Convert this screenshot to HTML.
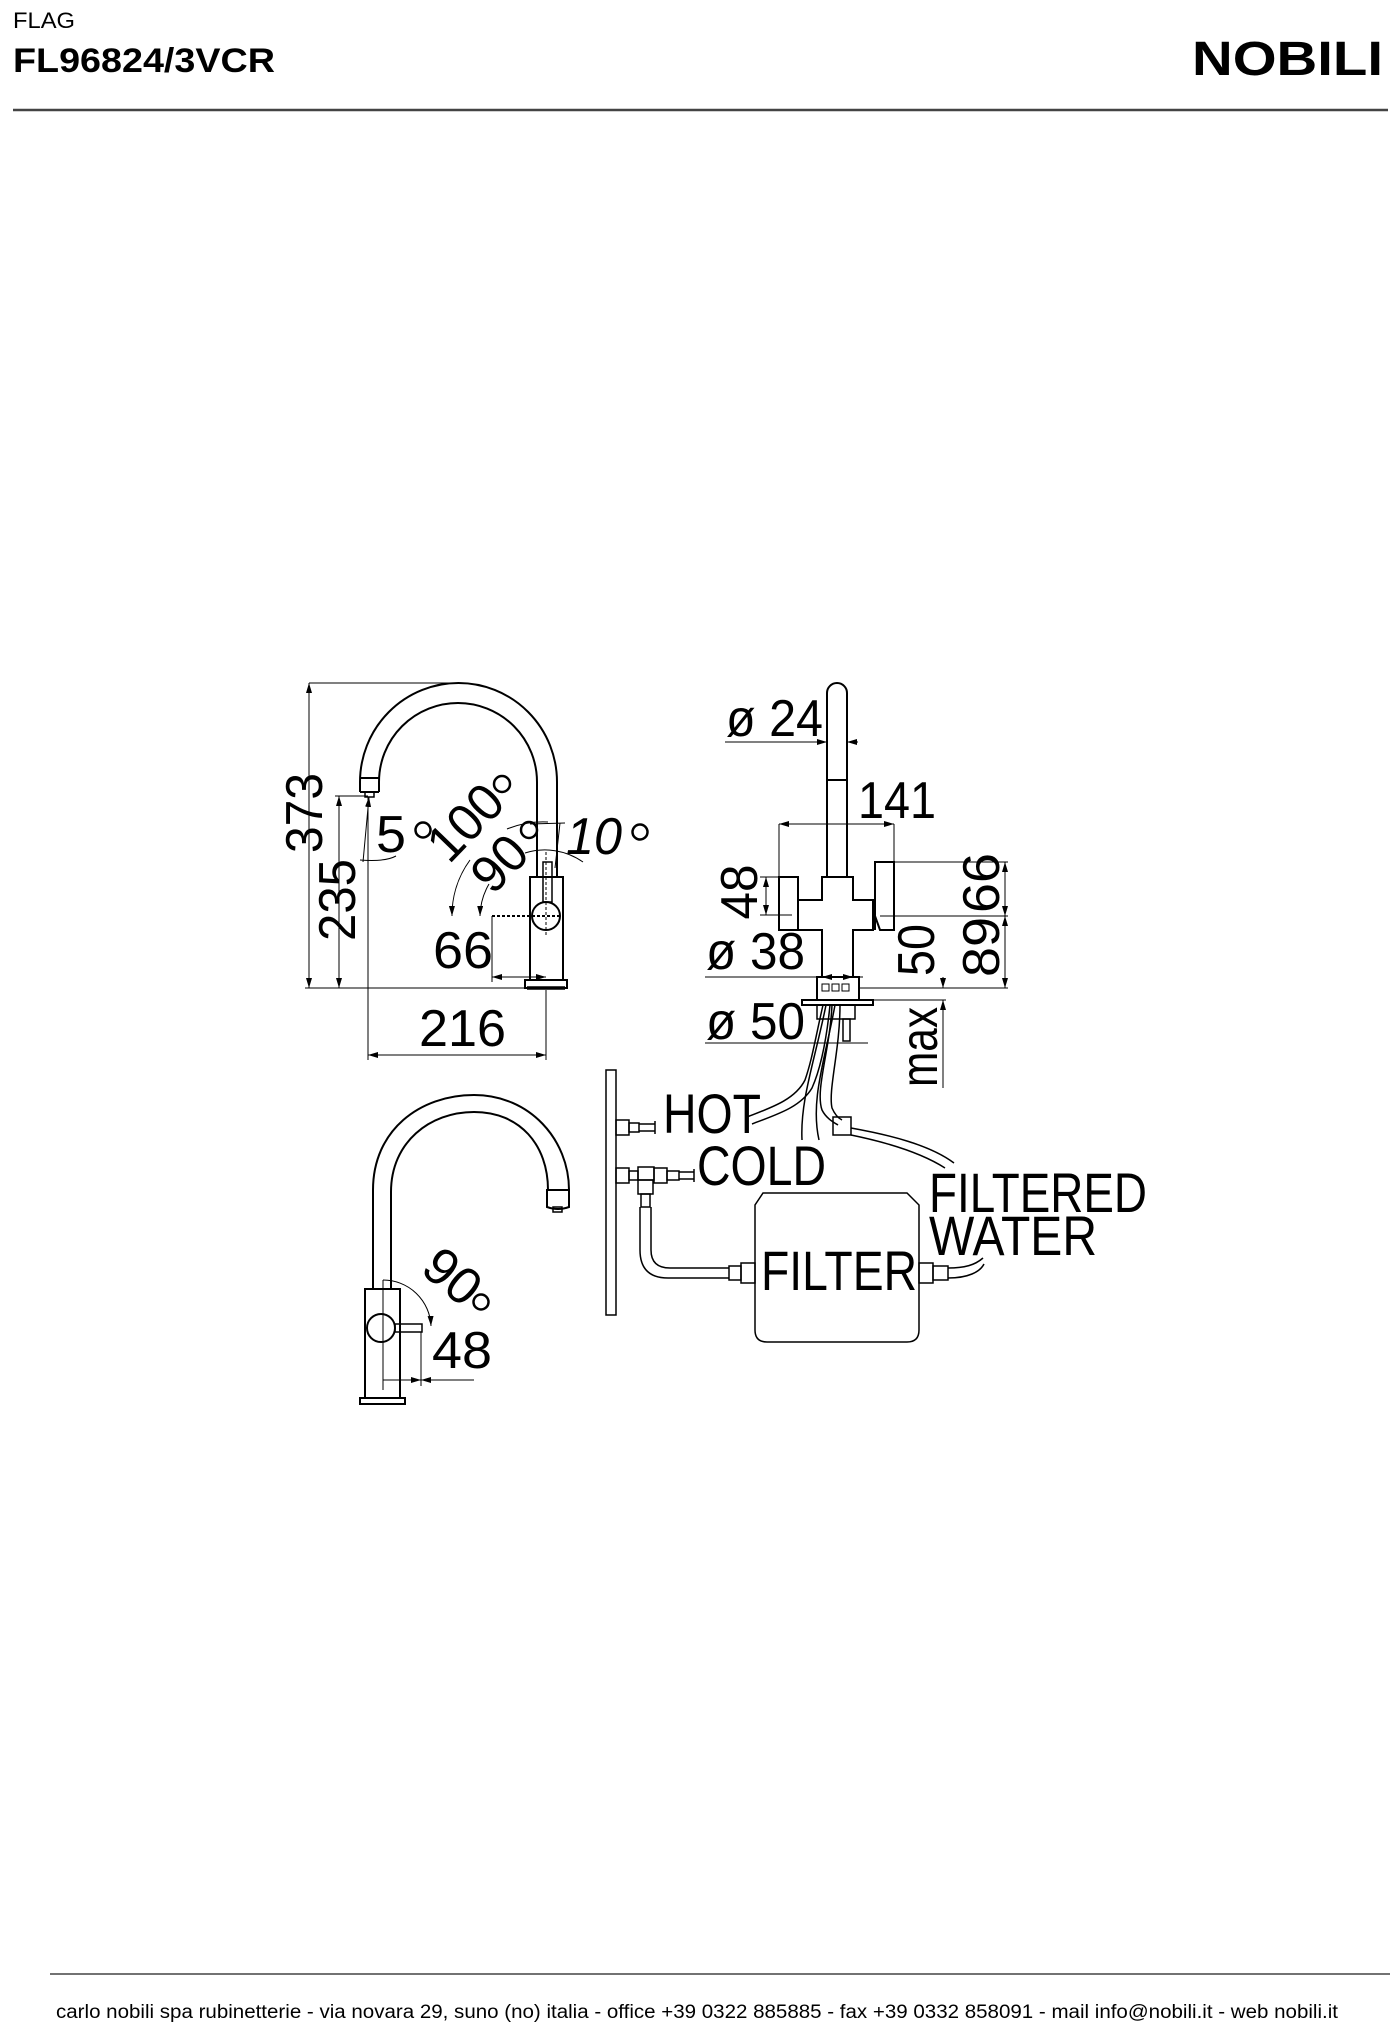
<!DOCTYPE html>
<html><head><meta charset="utf-8"><style>
html,body{margin:0;padding:0;background:#fff;}
svg{display:block;}
text{font-family:"Liberation Sans",Arial,sans-serif;fill:#000;}
</style></head><body>
<svg width="1400" height="2031" viewBox="0 0 1400 2031" xmlns="http://www.w3.org/2000/svg" font-family="Liberation Sans, Arial, sans-serif">
<defs>
<marker id="a" viewBox="0 0 10 6" refX="10" refY="3" markerWidth="10" markerHeight="6" orient="auto-start-reverse" markerUnits="userSpaceOnUse"><path d="M0,0 L10,3 L0,6 z" fill="#000"/></marker>
</defs>
<!-- header -->
<text x="13" y="28" font-size="22" font-weight="300" fill="#444" textLength="62" lengthAdjust="spacingAndGlyphs">FLAG</text>
<text x="13" y="72" font-size="34" font-weight="bold" textLength="262" lengthAdjust="spacingAndGlyphs">FL96824/3VCR</text>
<text x="1192" y="75" font-size="48" font-weight="bold" textLength="191" lengthAdjust="spacingAndGlyphs">NOBILI</text>
<line x1="13" y1="110" x2="1388" y2="110" stroke="#444" stroke-width="2.5"/>
<!-- footer -->
<line x1="50" y1="1974" x2="1390" y2="1974" stroke="#444" stroke-width="1.5"/>
<text x="56" y="2018" font-size="19" fill="#222" textLength="1282" lengthAdjust="spacingAndGlyphs">carlo nobili spa rubinetterie - via novara 29, suno (no) italia - office +39 0322 885885 - fax +39 0332 858091 - mail info@nobili.it - web nobili.it</text>

<g fill="none" stroke="#000">
<!-- ===== LEFT SIDE VIEW ===== -->
<g stroke-width="1">
<line x1="309" y1="683" x2="460" y2="683"/>
<line x1="309" y1="683" x2="309" y2="988" marker-start="url(#a)" marker-end="url(#a)"/>
<line x1="305" y1="988" x2="567" y2="988"/>
<line x1="335" y1="796" x2="368" y2="796"/>
<line x1="339" y1="796" x2="339" y2="988" marker-start="url(#a)" marker-end="url(#a)"/>
<line x1="368" y1="797" x2="368" y2="1060"/>
<line x1="546" y1="990" x2="546" y2="1060"/>
<line x1="368" y1="1055" x2="546" y2="1055" marker-start="url(#a)" marker-end="url(#a)"/>
<line x1="492" y1="916" x2="492" y2="982"/>
<line x1="492" y1="977" x2="546" y2="977" marker-start="url(#a)" marker-end="url(#a)"/>
<line x1="369" y1="797" x2="363" y2="862" marker-start="url(#a)"/>
<path d="M360,860 Q385,862 396,856"/>
<path d="M452,916 A94,94 0 0 1 470,860" marker-start="url(#a)"/>
<path d="M507,829 A94,94 0 0 1 548,822"/>
<path d="M480,916 A66,66 0 0 1 489,884" marker-start="url(#a)"/>
<path d="M525,853 A66,66 0 0 1 583,862"/>
<line x1="530" y1="824" x2="565" y2="823"/>
<line x1="560" y1="823" x2="555" y2="868"/>
<line x1="546" y1="852" x2="546" y2="935" stroke-dasharray="3,2"/>
<line x1="492" y1="916" x2="562" y2="916" stroke-dasharray="3,2" stroke-width="2"/>
</g>
<g stroke-width="2">
<path d="M360,792 L360,782 A98.5,99 0 0 1 557,782 L557,877"/>
<path d="M379,792 L379,782 A79,79 0 0 1 537,782 L537,877"/>
<line x1="360" y1="778" x2="379" y2="778"/>
<line x1="360" y1="792" x2="379" y2="792"/>
<rect x="365" y="792" width="9" height="5" stroke-width="1.5"/>
<rect x="530" y="877" width="33" height="103"/>
<rect x="525" y="980" width="42" height="8"/>
<line x1="527" y1="988" x2="565" y2="988" stroke-width="3.5"/>
<circle cx="546" cy="916" r="14"/>
<rect x="543" y="862" width="9" height="40" stroke-width="1.5"/>
</g>

<!-- ===== RIGHT FRONT VIEW ===== -->
<g stroke-width="1">
<line x1="725" y1="742" x2="827" y2="742" marker-end="url(#a)"/>
<line x1="847" y1="742" x2="858" y2="742" marker-start="url(#a)"/>
<line x1="779" y1="824" x2="894" y2="824" marker-start="url(#a)" marker-end="url(#a)"/>
<line x1="779" y1="824" x2="779" y2="917"/>
<line x1="894" y1="824" x2="894" y2="862"/>
<line x1="760" y1="877" x2="779" y2="877"/>
<line x1="760" y1="915" x2="792" y2="915"/>
<line x1="766" y1="877" x2="766" y2="915" marker-start="url(#a)" marker-end="url(#a)"/>
<line x1="894" y1="862" x2="1008" y2="862"/>
<line x1="880" y1="916" x2="1008" y2="916"/>
<line x1="858" y1="988" x2="1008" y2="988"/>
<line x1="1005" y1="862" x2="1005" y2="916" marker-start="url(#a)" marker-end="url(#a)"/>
<line x1="1005" y1="916" x2="1005" y2="988" marker-start="url(#a)" marker-end="url(#a)"/>
<line x1="705" y1="977" x2="863" y2="977"/>
<line x1="822" y1="977" x2="853" y2="977" marker-start="url(#a)" marker-end="url(#a)"/>
<line x1="705" y1="1043" x2="868" y2="1043"/>
<line x1="943" y1="977" x2="943" y2="988" marker-end="url(#a)"/>
<line x1="943" y1="1088" x2="943" y2="1000" marker-end="url(#a)"/>
<line x1="860" y1="1000" x2="946" y2="1000"/>
</g>
<g stroke-width="2">
<path d="M827,877 L827,693 A10,10 0 0 1 847,693 L847,877"/>
<line x1="827" y1="780" x2="847" y2="780"/>
<path d="M822,877 L853,877 L853,900 L873,900 L873,930 L853,930 L853,977 L822,977 L822,930 L798,930 L798,900 L822,900 Z"/>
<rect x="779" y="877" width="19" height="53"/>
<path d="M875,930 L875,862 L894,862 L894,930 L880,930 L875,916"/>
<rect x="817" y="977" width="42" height="23"/>
<rect x="802" y="1000" width="71" height="5"/>
<rect x="817" y="1005" width="38" height="14" stroke-width="1.5"/>
<rect x="843" y="1019" width="7" height="22" stroke-width="1.5"/>
</g>
<g stroke-width="1">
<rect x="822" y="984" width="7" height="7"/><rect x="832" y="984" width="7" height="7"/><rect x="842" y="984" width="7" height="7"/>
</g>
<!-- hoses -->
<g stroke-width="1.5">
<path d="M823,1005 C815,1040 812,1060 805,1080 C795,1100 770,1108 747,1117"/>
<path d="M830,1005 C826,1045 820,1070 812,1088 C800,1108 775,1115 752,1124"/>
<path d="M826,1005 C815,1060 800,1100 802,1140"/>
<path d="M835,1005 C825,1060 810,1100 819,1140"/>
<path d="M832,1005 C830,1050 815,1090 822,1110 C826,1118 833,1122 838,1125"/>
<path d="M840,1005 C840,1050 828,1090 832,1108 C835,1115 838,1118 842,1120"/>
<rect x="833" y="1117" width="18" height="18"/>
<path d="M851,1128 C890,1135 930,1145 954,1163"/>
<path d="M851,1135 C885,1142 920,1152 945,1168"/>
</g>
<!-- wall & connectors -->
<g stroke-width="1.5">
<rect x="606" y="1070" width="10" height="245"/>
<rect x="616" y="1120" width="13" height="15"/>
<rect x="629" y="1123" width="10" height="9"/>
<line x1="639" y1="1124" x2="655" y2="1124"/><line x1="639" y1="1131" x2="655" y2="1131"/><line x1="655" y1="1121" x2="655" y2="1134"/>
<rect x="616" y="1168" width="13" height="15"/>
<rect x="629" y="1171" width="9" height="9"/>
<rect x="638" y="1167" width="16" height="13"/>
<rect x="654" y="1168" width="13" height="15"/>
<rect x="667" y="1171" width="12" height="9"/>
<line x1="679" y1="1172" x2="694" y2="1172"/><line x1="679" y1="1179" x2="694" y2="1179"/><line x1="694" y1="1169" x2="694" y2="1182"/>
<rect x="638" y="1180" width="15" height="14"/>
<rect x="641" y="1194" width="9" height="13"/>
<path d="M640,1207 L640,1250 Q640,1278 668,1278 L729,1278"/>
<path d="M651,1207 L651,1250 Q651,1268 670,1268 L729,1268"/>
<rect x="729" y="1266" width="12" height="14"/>
<rect x="741" y="1263" width="14" height="20"/>
<path d="M763,1193 L907,1193 L919,1205 L919,1330 Q919,1342 907,1342 L767,1342 Q755,1342 755,1330 L755,1205 Z"/>
<rect x="919" y="1263" width="14" height="20"/>
<rect x="933" y="1266" width="15" height="14"/>
<path d="M948,1268 C965,1268 975,1265 983,1258"/>
<path d="M948,1278 C968,1278 980,1272 984,1264"/>
</g>

<!-- ===== BOTTOM LEFT PERSPECTIVE ===== -->
<g stroke-width="2">
<path d="M373,1289 L373,1190 C373,1130 420,1095 474,1095 C530,1095 569,1140 569,1190"/>
<path d="M391,1289 L391,1192 C391,1142 430,1112 474,1112 C520,1112 548,1145 548,1190"/>
<path d="M547,1190 L569,1190 L569,1207 Q558,1211 547,1207 Z"/>
<rect x="553" y="1207" width="9" height="5" stroke-width="1.5"/>
<rect x="365" y="1289" width="35" height="109"/>
<rect x="360" y="1398" width="45" height="6"/>
<circle cx="381" cy="1328" r="14"/>
<rect x="395" y="1324" width="27" height="8" stroke-width="1.5"/>
</g>
<g stroke-width="1">
<line x1="383" y1="1280" x2="383" y2="1390"/>
<path d="M383,1280 A48,48 0 0 1 431,1326" marker-end="url(#a)"/>
<line x1="421" y1="1332" x2="421" y2="1386"/>
<line x1="383" y1="1380" x2="421" y2="1380" marker-end="url(#a)"/>
<line x1="421" y1="1380" x2="474" y2="1380" marker-start="url(#a)"/>
</g>
</g>

<!-- labels -->
<g font-size="52">
<text transform="translate(305,813) rotate(-90)" text-anchor="middle" dominant-baseline="central" textLength="80" lengthAdjust="spacingAndGlyphs">373</text>
<text transform="translate(338,900) rotate(-90)" text-anchor="middle" dominant-baseline="central" textLength="82" lengthAdjust="spacingAndGlyphs">235</text>
<text x="376" y="852" textLength="30" lengthAdjust="spacingAndGlyphs">5</text>
<circle cx="423" cy="830" r="7.5" fill="none" stroke="#000" stroke-width="2.5"/>
<text transform="translate(466,823) rotate(-46)" text-anchor="middle" dominant-baseline="central" textLength="84" lengthAdjust="spacingAndGlyphs">100</text>
<circle cx="502" cy="784" r="8" fill="none" stroke="#000" stroke-width="2.5"/>
<text transform="translate(500,864) rotate(-46)" text-anchor="middle" dominant-baseline="central" textLength="56" lengthAdjust="spacingAndGlyphs">90</text>
<circle cx="529" cy="830" r="8" fill="none" stroke="#000" stroke-width="2.5"/>
<text x="566" y="854" font-style="italic" textLength="56" lengthAdjust="spacingAndGlyphs">10</text>
<circle cx="640" cy="832" r="7.5" fill="none" stroke="#000" stroke-width="2.5"/>
<text x="463" y="968" text-anchor="middle" textLength="60" lengthAdjust="spacingAndGlyphs">66</text>
<text x="419" y="1046" textLength="87" lengthAdjust="spacingAndGlyphs">216</text>

<text x="726" y="736" textLength="97" lengthAdjust="spacingAndGlyphs">ø 24</text>
<text x="858" y="818" textLength="78" lengthAdjust="spacingAndGlyphs">141</text>
<text transform="translate(740,892) rotate(-90)" text-anchor="middle" dominant-baseline="central" textLength="55" lengthAdjust="spacingAndGlyphs">48</text>
<text transform="translate(982,883) rotate(-90)" text-anchor="middle" dominant-baseline="central" textLength="60" lengthAdjust="spacingAndGlyphs">66</text>
<text transform="translate(982,947) rotate(-90)" text-anchor="middle" dominant-baseline="central" textLength="60" lengthAdjust="spacingAndGlyphs">89</text>
<text transform="translate(917,950) rotate(-90)" text-anchor="middle" dominant-baseline="central" textLength="52" lengthAdjust="spacingAndGlyphs">50</text>
<text transform="translate(920,1047) rotate(-90)" text-anchor="middle" dominant-baseline="central" textLength="80" lengthAdjust="spacingAndGlyphs">max</text>
<text x="706" y="969" textLength="99" lengthAdjust="spacingAndGlyphs">ø 38</text>
<text x="706" y="1039" textLength="99" lengthAdjust="spacingAndGlyphs">ø 50</text>

<text transform="translate(452,1277) rotate(40)" text-anchor="middle" dominant-baseline="central" textLength="58" lengthAdjust="spacingAndGlyphs">90</text>
<circle cx="481" cy="1302" r="7.5" fill="none" stroke="#000" stroke-width="2.5"/>
<text x="462" y="1368" text-anchor="middle" textLength="60" lengthAdjust="spacingAndGlyphs">48</text>
</g>
<g font-size="56">
<text x="663" y="1133" textLength="98" lengthAdjust="spacingAndGlyphs">HOT</text>
<text x="697" y="1185" textLength="129" lengthAdjust="spacingAndGlyphs">COLD</text>
<text x="761" y="1290" textLength="156" lengthAdjust="spacingAndGlyphs">FILTER</text>
<text x="929" y="1212" textLength="218" lengthAdjust="spacingAndGlyphs">FILTERED</text>
<text x="929" y="1255" textLength="168" lengthAdjust="spacingAndGlyphs">WATER</text>
</g>
</svg>
</body></html>
